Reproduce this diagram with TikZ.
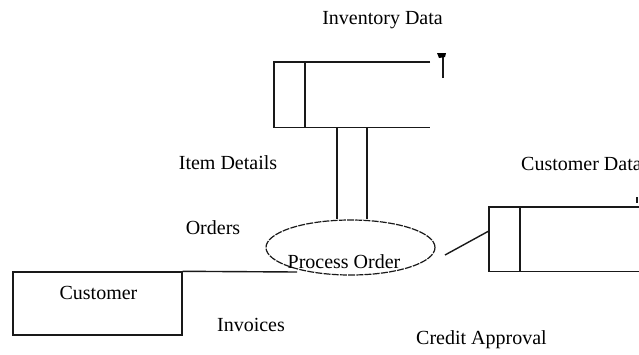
\documentclass[tikz,border=0pt]{standalone}
\usepackage{fontspec}
\setmainfont{Liberation Serif}
\usetikzlibrary{shapes.geometric}
\begin{document}
\begin{tikzpicture}[x=1pt,y=-1pt,
  line/.style={draw=black!90,line width=1.4pt},
  lbl/.style={font=\fontsize{20}{23}\selectfont,inner sep=0pt,text=black},
  proc/.style={ellipse,draw=black!90,line width=1.2pt,dash pattern=on 7pt off 1.2pt,
    minimum width=169pt,minimum height=55pt,inner sep=0pt},
  entity/.style={rectangle,draw=black!90,line width=1.4pt,minimum width=169pt,
    minimum height=63pt,inner sep=0pt},
  storebox/.style={rectangle,minimum height=65pt,inner sep=0pt}]
\useasboundingbox (0,0) rectangle (639,354);
\clip (0,0) rectangle (639,354);
\fill[white] (0,0) rectangle (639,354);

% data stores: open rectangles with a label compartment
\node[storebox,minimum width=156pt] (inv) at (352,94.5) {};
\draw[line] (inv.north east) -- (inv.north west) -- (inv.south west) -- (inv.south east);
\draw[line] ([xshift=31pt]inv.north west) -- ([xshift=31pt]inv.south west);

\node[storebox,minimum width=170pt,minimum height=64pt] (cust) at (574,239) {};
\draw[line] (cust.north east) -- (cust.north west) -- (cust.south west) -- (cust.south east);
\draw[line] ([xshift=31pt]cust.north west) -- ([xshift=31pt]cust.south west);

% marks at the open ends
\coordinate (invmark) at (443,78);
\draw[line] (invmark) -- ++(0,-23);
\fill[black] (437,53) -- (446,53) -- (445,57) -- (439,58) -- cycle;
\draw[line] (637,197) -- (637,203);

% process and external entity
\node[proc] (po) at (350.5,247.5) {};
\node[entity] (custent) at (97.5,303.5) {};

% connectors
\draw[line] ([xshift=-15pt]inv.south) -- ([xshift=-15pt]inv.south |- po.north);
\draw[line] ([xshift=15pt]inv.south) -- ([xshift=15pt]inv.south |- po.north);
\coordinate (poin) at (297,272);
\draw[line] (custent.north east) -- (poin);
\coordinate (poout) at (445,255);
\draw[line] (poout) -- ([yshift=8pt]cust.west);

% labels
\node[lbl] (tinv) at (382.5,20) {Inventory Data};
\node[lbl] (titem) at (228,163) {Item Details};
\node[lbl,anchor=west] (tcd) at (521,164) {Customer Data};
\node[lbl] (tord) at (213,228) {Orders};
\node[lbl] (tpo) at (344,262) {Process Order};
\node[lbl] (tcust) at (98.5,293) {Customer};
\node[lbl] (tinvo) at (251,325) {Invoices};
\node[lbl] (tca) at (481.5,340) {Credit Approval};
\end{tikzpicture}
\end{document}
